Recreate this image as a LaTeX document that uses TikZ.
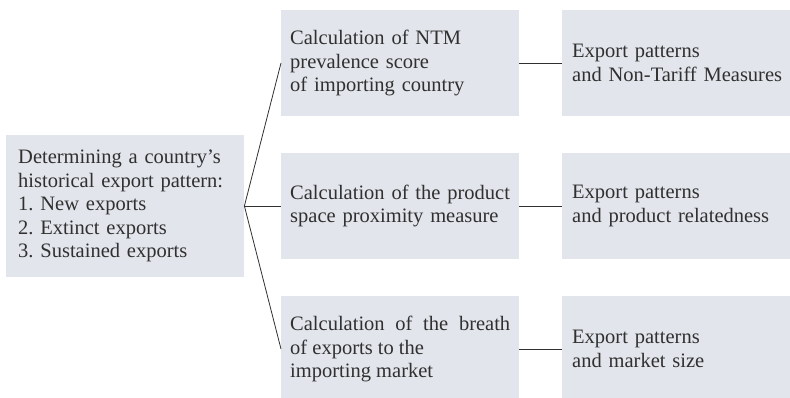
\documentclass[tikz,border=0pt]{standalone}
\usepackage{fontspec}
\setmainfont{Liberation Serif}

\definecolor{boxgray}{RGB}{226,229,236}
\definecolor{inkgray}{RGB}{48,48,48}

\tikzset{
    box/.style={fill=boxgray, text=inkgray, anchor=west, align=left,
        font=\fontsize{20.5}{23.4}\selectfont\frenchspacing, inner ysep=0pt},
    midbox/.style={box, inner xsep=9pt, text width=220pt, minimum height=106pt},
    resbox/.style={box, inner xsep=10pt, text width=214pt, minimum height=106pt},
    link/.style={draw=inkgray, line width=0.8pt}
}

\begin{document}
\begin{tikzpicture}[x=1pt,y=1pt]
                \useasboundingbox (0,0) rectangle (790,397);

                % Starting point
                \node[box, inner xsep=12pt, text width=214pt, minimum height=142pt] (hist) at (6,191)
                    {Determining a country's\\historical export pattern:\\1. New exports\\2. Extinct exports\\3. Sustained exports};

                % Three calculations
                \node[midbox] (ntm) at (281,334) {Calculation of NTM\\prevalence score\\of importing country};
                \node[midbox] (prox) at (281,191) {Calculation of the product\\space proximity measure};
                \node[midbox, align=justify] (breath) at (281,48) {Calculation of the breath\break of exports to the\\importing market};

                % Resulting analyses
                \node[resbox] (ntmres) at (562,334) {Export patterns\\and Non-Tariff Measures};
                \node[resbox] (proxres) at (562,191) {Export patterns\\and product relatedness};
                \node[resbox] (breathres) at (562,48) {Export patterns\\and market size};

                % Connectors
                \draw[link] (hist.east) -- (ntm.west);
                \draw[link] (hist.east) -- (prox.west);
                \draw[link] (hist.east) -- (breath.west);
                \draw[link] (ntm.east) -- (ntmres.west);
                \draw[link] (prox.east) -- (proxres.west);
                \draw[link] (breath.east) -- (breathres.west);
\end{tikzpicture}
\end{document}
